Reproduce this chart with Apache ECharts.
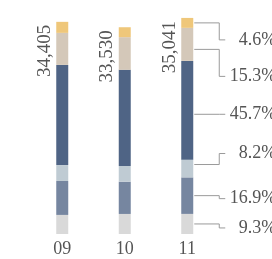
<!DOCTYPE html>
<html>
<head>
<meta charset="utf-8">
<style>
  html, body { margin: 0; padding: 0; background: #fff; }
  #chart { width: 272px; height: 259px; }
</style>
<script src="https://cdn.jsdelivr.net/npm/echarts@6/dist/echarts.min.js"></script>
</head>
<body>
<div id="chart"></div>
<script>
// years on the x axis
const years = ["09", "10", "11"];
// stacked segments, bottom to top
const seg1 = [3096, 3252, 3259];
const seg2 = [5505, 5231, 5922];
const seg3 = [2580, 2548, 2873];
const seg4 = [16239, 15591, 16014];
const seg5 = [5195, 5298, 5361];
const seg6 = [1790, 1610, 1612];

const segments = [seg1, seg2, seg3, seg4, seg5, seg6];
const colors = ["#d9d9d9", "#7686a0", "#bfcbd3", "#4f6485", "#d4c8b9", "#efc77a"];
const totals = years.map((y, i) => segments.reduce((s, arr) => s + arr[i], 0));

const font = "Liberation Serif";
const textColor = "#555";
const barWidth = 12;
// leader lines for the last year: [line start dy, label dy] from segment middle
const leaderOffsets = [[0, 4], [0, 3], [-4, -15], [4, 4], [5, 32], [0, 17]];

const chart = echarts.init(document.getElementById("chart"));

const barSeries = segments.map((arr, k) => ({
    type: "bar",
    stack: "total",
    data: arr,
    barWidth: barWidth,
    itemStyle: { color: colors[k] },
    silent: true,
    label: k === segments.length - 1 ? {
        show: true,
        position: [-2, 3],
        rotate: 90,
        align: "right",
        verticalAlign: "bottom",
        fontFamily: font,
        fontSize: 19,
        color: textColor,
        formatter: p => totals[p.dataIndex].toLocaleString("en-US")
    } : { show: false }
}));

// cumulative ranges for the last year's segments
const last = years.length - 1;
const leaderData = [];
let cum = 0;
segments.forEach((arr, k) => {
    leaderData.push([last, cum, cum + arr[last], arr[last] / totals[last] * 100, k]);
    cum += arr[last];
});

const leaderSeries = {
    type: "custom",
    silent: true,
    data: leaderData,
    encode: { x: 0, y: [1, 2] },
    renderItem: function(params, api) {
        const lo = api.coord([api.value(0), api.value(1)]);
        const hi = api.coord([api.value(0), api.value(2)]);
        const k = api.value(4);
        const mid = (lo[1] + hi[1]) / 2;
        const y0 = mid + leaderOffsets[k][0];
        const y1 = mid + leaderOffsets[k][1];
        const x0 = lo[0] + barWidth / 2 + 1;
        const xb = x0 + 25;
        const x1 = x0 + 31;
        return {
            type: "group",
            children: [{
                type: "polyline",
                shape: { points: [[x0, y0], [xb, y0], [xb, y1], [x1, y1]] },
                style: { stroke: "#9a9a9a", lineWidth: 1, fill: null }
            }, {
                type: "text",
                style: {
                    x: x1 + 51,
                    y: y1,
                    text: api.value(3).toFixed(1) + "%",
                    align: "right",
                    verticalAlign: "middle",
                    font: "18px '" + font + "'",
                    fill: textColor
                }
            }]
        };
    }
};

chart.setOption({
    animation: false,
    grid: { left: 31, width: 187.5, top: 12, height: 222 },
    xAxis: {
        type: "category",
        data: years,
        axisLine: { show: false },
        axisTick: { show: false },
        axisLabel: { fontFamily: font, fontSize: 18, color: textColor, margin: 6 }
    },
    yAxis: {
        type: "value",
        min: 0,
        max: 36000,
        show: false
    },
    series: barSeries.concat([leaderSeries])
});
</script>
</body>
</html>
